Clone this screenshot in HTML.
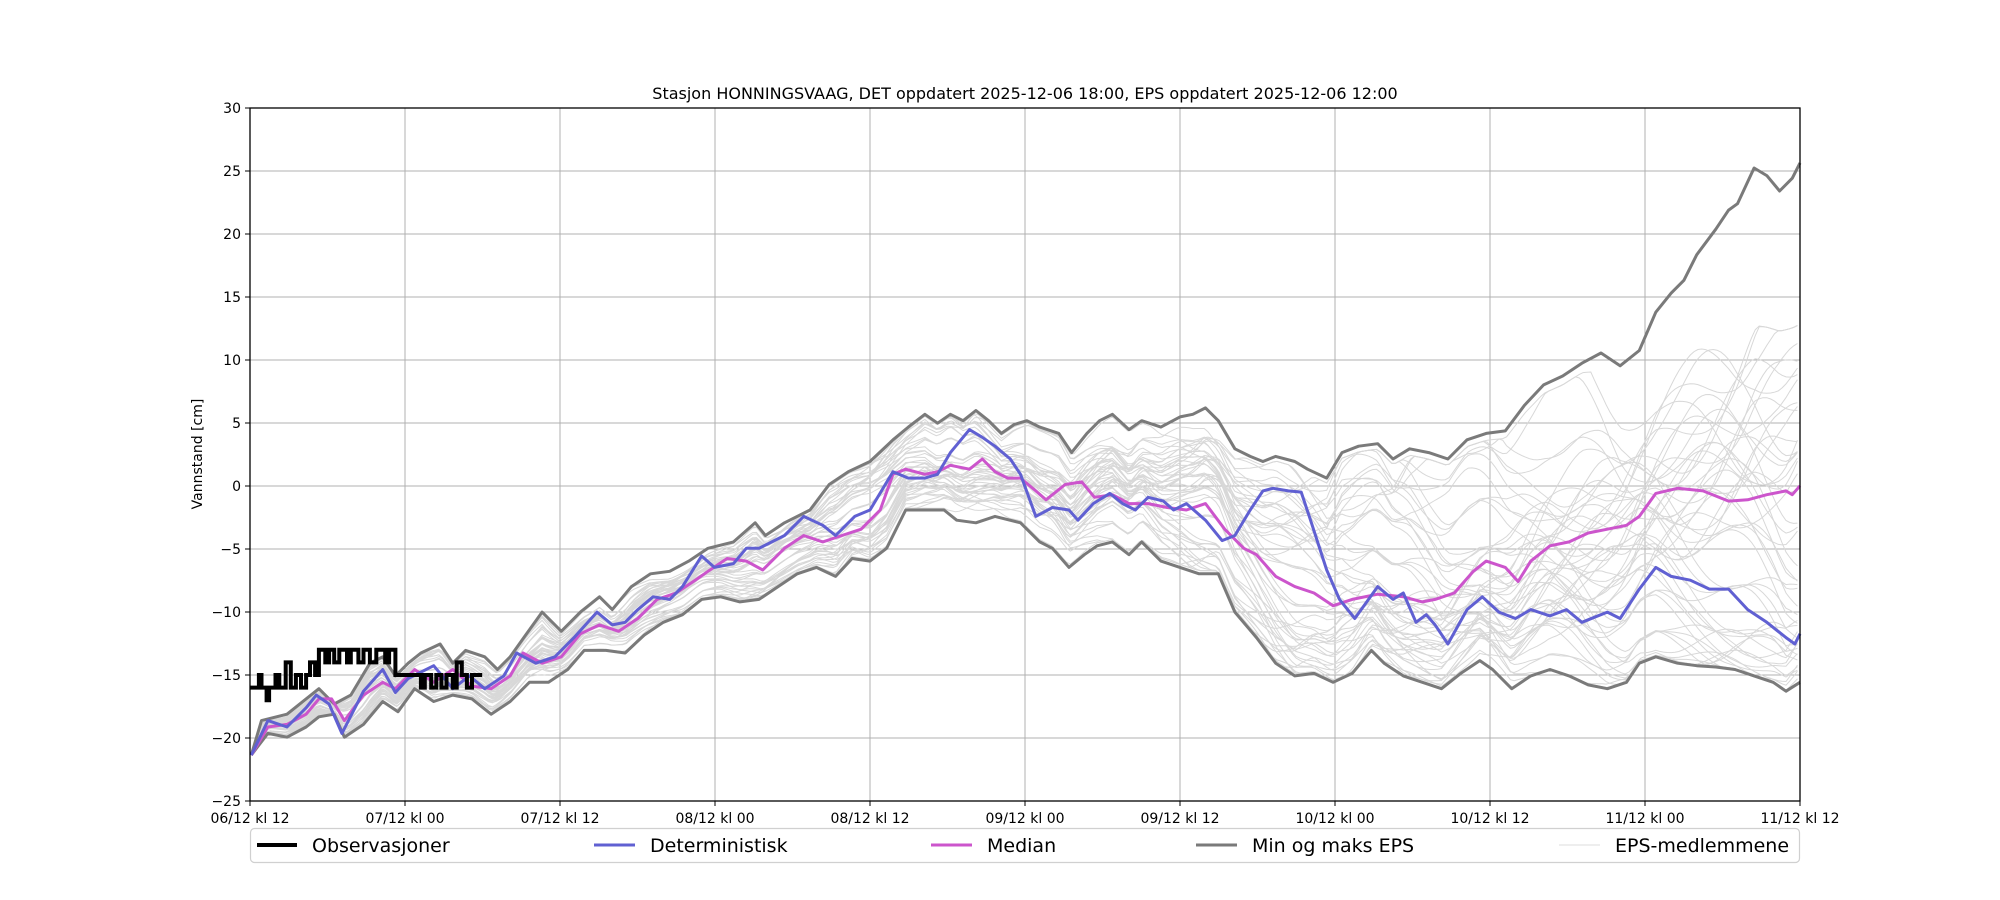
<!DOCTYPE html>
<html><head><meta charset="utf-8"><style>
html,body{margin:0;padding:0;background:#fff;}
svg{display:block;font-family:"DejaVu Sans","Liberation Sans",sans-serif;}
</style></head><body>
<svg id="s" width="2000" height="900" viewBox="0 0 2000 900" xmlns="http://www.w3.org/2000/svg">
<rect width="2000" height="900" fill="#fff"/>
<g id="grid"></g>
<g id="members"></g>
<g id="series"></g>
<rect x="250" y="108" width="1550" height="693" fill="none" stroke="#000" stroke-width="1.3"/>
<g id="ticks" font-size="14" fill="#000"></g>
<text x="1025" y="99" font-size="16" text-anchor="middle">Stasjon HONNINGSVAAG, DET oppdatert 2025-12-06 18:00, EPS oppdatert 2025-12-06 12:00</text>
<text transform="translate(202,454) rotate(-90)" font-size="14" text-anchor="middle">Vannstand [cm]</text>
<rect x="250.5" y="828.5" width="1549" height="34" rx="4" fill="#fff" stroke="#d0d0d0" stroke-width="1.2"/>
<line x1="257" y1="845" x2="297" y2="845" stroke="#000" stroke-width="4"/>
<text x="312" y="852" font-size="19">Observasjoner</text>
<line x1="594" y1="845" x2="635" y2="845" stroke="#6060d2" stroke-width="3"/>
<text x="650" y="852" font-size="19">Deterministisk</text>
<line x1="931" y1="845" x2="972" y2="845" stroke="#cc55cc" stroke-width="3"/>
<text x="987" y="852" font-size="19">Median</text>
<line x1="1196" y1="845" x2="1237" y2="845" stroke="#7a7a7a" stroke-width="3"/>
<text x="1252" y="852" font-size="19">Min og maks EPS</text>
<line x1="1559" y1="845" x2="1600" y2="845" stroke="#ddd" stroke-width="1"/>
<text x="1615" y="852" font-size="19">EPS-medlemmene</text>
</svg>
<script>
var NS="http://www.w3.org/2000/svg";
function X(xd){return 250+(xd-196)*1550/1215;}
function Y(yd){return 108+(yd-85)*693/543;}
function yv(v){return 108+(30-v)*12.6;}
function el(p,tag,a){var e=document.createElementNS(NS,tag);for(var k in a)e.setAttribute(k,a[k]);p.appendChild(e);return e;}
var grid=document.getElementById('grid'),ticks=document.getElementById('ticks');
var xl=["06/12 kl 12","07/12 kl 00","07/12 kl 12","08/12 kl 00","08/12 kl 12","09/12 kl 00","09/12 kl 12","10/12 kl 00","10/12 kl 12","11/12 kl 00","11/12 kl 12"];
for(var i=0;i<=10;i++){var x=250+i*155;
 if(i>0&&i<10)el(grid,'line',{x1:x,y1:108,x2:x,y2:801,stroke:'#b0b0b0','stroke-width':1});
 el(ticks,'line',{x1:x,y1:801,x2:x,y2:806,stroke:'#000'});
 var t=el(ticks,'text',{x:x,y:823,'text-anchor':'middle'});t.textContent=xl[i];}
for(var v=-25;v<=30;v+=5){var y=yv(v);
 if(v>-25&&v<30)el(grid,'line',{x1:250,y1:y,x2:1800,y2:y,stroke:'#b0b0b0','stroke-width':1});
 el(ticks,'line',{x1:245,y1:y,x2:250,y2:y,stroke:'#000'});
 var t=el(ticks,'text',{x:241,y:y+5,'text-anchor':'end'});t.textContent=(v<0?'\u2212'+(-v):v);}
function P(a){var s=[];for(var i=0;i<a.length;i+=2)s.push(X(a[i]).toFixed(1)+','+Y(a[i+1]).toFixed(1));return s.join(' ');}
var det=[197,592,210,565,225,570,240,555,248,545,258,552,268,575,285,542,300,525,310,543,320,532,340,522,355,540,368,530,380,540,395,530,405,512,420,520,435,515,450,500,468,480,480,490,490,488,500,478,512,468,525,470,535,460,550,436,560,445,575,442,585,430,595,430,615,420,630,405,645,412,655,420,670,405,682,400,700,370,712,375,725,375,735,372,745,355,760,337,770,343,780,350,792,360,800,372,812,405,825,398,838,400,845,408,857,395,870,387,880,395,890,400,900,390,912,393,920,400,930,395,945,408,958,424,968,420,980,400,990,385,998,383,1010,385,1020,386,1028,410,1040,447,1050,470,1062,485,1080,460,1092,470,1100,465,1110,488,1118,482,1125,490,1135,505,1150,478,1162,468,1175,480,1188,485,1200,478,1215,483,1228,478,1240,488,1250,484,1260,480,1270,485,1285,462,1298,445,1310,452,1325,455,1340,462,1355,462,1370,478,1385,488,1400,500,1407,505,1411,497];
var med=[197,592,210,570,225,568,240,560,250,548,260,548,270,565,285,545,300,535,310,540,325,525,340,535,355,525,370,538,385,540,400,530,410,512,425,520,440,515,455,497,470,490,485,495,500,485,515,470,530,465,545,455,555,448,570,438,585,440,598,447,615,430,630,420,645,425,660,420,675,415,690,400,700,372,710,368,725,372,735,370,745,365,760,368,770,360,780,370,790,375,800,375,812,385,820,392,835,380,848,378,858,390,872,388,885,395,900,395,915,398,930,400,945,395,960,415,975,430,985,435,1000,452,1015,460,1030,465,1045,475,1060,470,1080,466,1100,468,1115,472,1125,470,1140,465,1155,448,1165,440,1180,445,1190,456,1200,440,1215,428,1230,425,1245,418,1260,415,1275,412,1285,405,1298,387,1315,383,1335,385,1355,393,1370,392,1385,388,1400,385,1405,388,1411,381];
var mx=[197,592,205,565,225,560,240,548,250,540,262,552,275,545,290,520,300,515,310,530,320,520,330,512,345,505,355,520,365,510,380,515,390,525,400,515,412,498,425,480,440,495,455,480,470,468,480,478,495,460,510,450,525,448,540,440,555,430,575,425,592,410,600,420,615,410,635,400,650,380,665,370,682,362,700,345,712,335,725,325,735,332,745,325,755,330,765,322,775,330,785,340,795,333,805,330,815,335,830,340,840,355,852,340,862,330,872,325,885,337,895,330,910,335,925,327,935,325,945,320,955,330,968,352,980,358,990,362,1000,358,1015,362,1025,368,1040,375,1052,355,1065,350,1080,348,1092,360,1105,352,1120,355,1135,360,1150,345,1165,340,1180,338,1195,318,1210,302,1225,295,1240,285,1255,277,1270,287,1285,275,1298,245,1310,230,1320,220,1330,200,1345,180,1355,165,1362,160,1375,132,1385,138,1395,150,1405,140,1411,128];
var mn=[197,592,210,575,225,578,240,570,250,562,262,560,270,578,285,568,300,550,312,558,325,540,340,550,355,545,370,548,385,560,400,550,415,535,430,535,445,525,458,510,475,510,490,512,505,498,520,488,535,482,550,470,565,468,580,472,595,470,610,460,625,450,640,445,655,452,668,438,682,440,695,430,710,400,725,400,740,400,750,408,765,410,780,405,800,410,815,425,825,430,838,445,850,435,860,428,872,425,885,435,895,425,910,440,925,445,940,450,955,450,968,480,985,500,1000,520,1015,530,1030,528,1045,535,1060,528,1075,510,1085,520,1100,530,1115,535,1130,540,1145,528,1160,518,1170,525,1185,540,1200,530,1215,525,1230,530,1245,537,1260,540,1275,535,1285,520,1298,515,1315,520,1330,522,1345,523,1360,525,1375,530,1390,535,1400,542,1411,535];
function interp(a,x){for(var i=2;i<a.length;i+=2){if(a[i]>=x){var x0=a[i-2],x1=a[i],t=(x-x0)/(x1-x0||1);return a[i-1]+t*(a[i+1]-a[i-1]);}}return a[a.length-1];}
var mg=document.getElementById('members');
for(var m=0;m<50;m++){var pts=[];var ph1=m*1.7,ph2=m*2.9,base=0.08+0.84*((m*37)%50)/50;
 for(var xd=197;xd<=1411;xd+=3){var lo=interp(mn,xd),hi=interp(mx,xd);
  if(xd>1150){var cap=(m==7)?Math.max(225,300-(xd-1150)*0.3):(m==19?255:285);
   if(hi<cap)hi=cap+(hi-cap)*0.25;}
  var f=base+0.16*Math.sin(xd/60+ph1)+0.07*Math.sin(xd/17+ph2);f=Math.max(0.02,Math.min(0.98,f));
  var w=f;
  if(xd>950){var k=Math.min(1,(xd-950)/200);var p=1+0.5*k;w=Math.pow(f,p);}
  pts.push(X(xd).toFixed(1)+','+Y(lo+(hi-lo)*w).toFixed(1));}
 el(mg,'polyline',{points:pts.join(' '),fill:'none',stroke:'#d8d8d8','stroke-width':1});}
var sg=document.getElementById('series');
el(sg,'polyline',{points:P(mx),fill:'none',stroke:'#7a7a7a','stroke-width':3,'stroke-linejoin':'round'});
el(sg,'polyline',{points:P(mn),fill:'none',stroke:'#7a7a7a','stroke-width':3,'stroke-linejoin':'round'});
el(sg,'polyline',{points:P(med),fill:'none',stroke:'#cc55cc','stroke-width':3,'stroke-linejoin':'round'});
el(sg,'polyline',{points:P(det),fill:'none',stroke:'#6060d2','stroke-width':3,'stroke-linejoin':'round'});
var ob=[196,-16,203,-15,205,-16,209,-17,211,-16,216,-15,219,-16,224,-14,228,-16,232,-15,236,-16,240,-15,243,-14,247,-15,250,-13,255,-14,258,-13,262,-14,266,-13,272,-14,275,-13,281,-14,285,-13,290,-14,295,-13,302,-14,305,-13,310,-15,325,-15,330,-16,333,-15,338,-16,342,-15,346,-16,350,-15,355,-16,358,-14,362,-15,366,-16,370,-15,378,-15];
var op=[];for(var i=0;i<ob.length;i+=2){var x=X(ob[i]),y=yv(ob[i+1]);if(i>0)op.push(x.toFixed(1)+','+yv(ob[i-1]).toFixed(1));op.push(x.toFixed(1)+','+y.toFixed(1));}
el(sg,'polyline',{points:op.join(' '),fill:'none',stroke:'#000','stroke-width':4});
</script>
</body></html>
